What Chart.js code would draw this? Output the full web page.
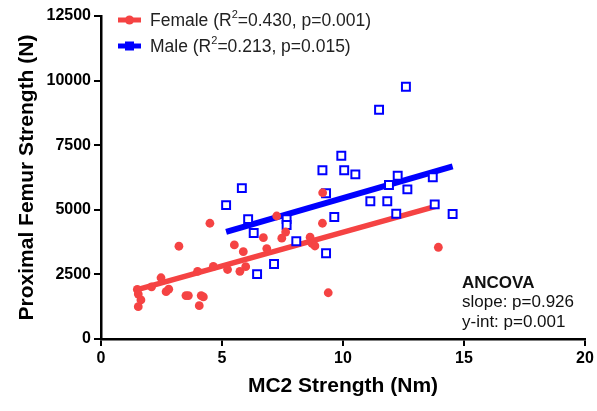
<!DOCTYPE html>
<html lang="en">
<head>
<meta charset="UTF-8">
<title>Proximal Femur vs MC2 Strength</title>
<style>
    html, body { margin: 0; padding: 0; background: #fff; }
    #femurChart { display: block; }
</style>
<script src="https://cdn.jsdelivr.net/npm/chart.js"></script>
</head>
<body>
<canvas id="femurChart" width="597" height="411"></canvas>
<script>
    // values
    const femaleX = [1.50, 1.54, 1.65, 1.54, 2.09, 2.48, 2.69, 2.80, 3.22, 3.51, 3.61, 3.99, 4.06, 4.14, 4.23, 4.50, 4.64,
                     5.23, 5.51, 5.74, 5.88, 5.98, 6.71, 6.85, 7.26, 7.47, 7.63, 8.64, 8.72, 8.84, 9.15, 9.16, 9.39, 13.94];
    const femaleY = [1920, 1740, 1510, 1250, 2020, 2370, 1830, 1930, 3590, 1680, 1680, 2620, 1290, 1680, 1630, 4480, 2810,
                     2690, 3640, 2620, 3380, 2800, 3920, 3500, 4760, 3900, 4140, 3940, 3700, 3600, 4480, 5660, 1790, 3550];

    const maleX = [5.17, 5.82, 6.08, 6.31, 6.45, 7.15, 7.67, 7.67, 8.07, 9.15, 9.30, 9.30, 9.64, 9.93, 10.05, 10.51,
                   11.13, 11.49, 11.83, 11.90, 12.20, 12.26, 12.60, 12.66, 13.71, 13.79, 14.53];
    const maleY = [5180, 5840, 4640, 4100, 2510, 2900, 4640, 4410, 3780, 6530, 5640, 3320, 4720, 7090, 6530, 6370,
                   5330, 8870, 5330, 5960, 4850, 6320, 9760, 5790, 6260, 5210, 4840];

    // regression line ends
    const femaleFitX = [1.50, 13.94];
    const femaleFitY = [1910, 5165];
    const maleFitX = [5.17, 14.53];
    const maleFitY = [4148, 6679];

    const xTicks = [0, 5, 10, 15, 20];
    const yTicks = [0, 2500, 5000, 7500, 10000, 12500];

    const legendRows = [
        { name: 'Female', r2: '0.430', p: '0.001' },
        { name: 'Male', r2: '0.213', p: '0.015' }
    ];
    const ancovaLines = ['ANCOVA', 'slope: p=0.926', 'y-int: p=0.001'];

    const RED = '#F54343';
    const BLUE = '#0000FF';
    const FONT = '"Liberation Sans", Arial, Helvetica, sans-serif';

    const pairs = (xs, ys) => xs.map((x, i) => ({ x: x, y: ys[i] }));

    // legend with superscript and the ANCOVA note
    const notesPlugin = {
        id: 'notes',
        afterDraw(chart) {
            const ctx = chart.ctx;
            ctx.save();
            ctx.textBaseline = 'middle';
            legendRows.forEach((row, i) => {
                const y = 20 + i * 26;
                const color = i === 0 ? RED : BLUE;
                ctx.strokeStyle = color;
                ctx.fillStyle = color;
                ctx.lineWidth = 5;
                ctx.beginPath();
                ctx.moveTo(118, y);
                ctx.lineTo(141, y);
                ctx.stroke();
                if (i === 0) {
                    ctx.beginPath();
                    ctx.arc(129.5, y, 4.5, 0, Math.PI * 2);
                    ctx.fill();
                } else {
                    ctx.fillRect(125, y - 4.5, 9, 9);
                }
                ctx.fillStyle = '#222';
                let x = 150;
                ctx.font = '17.5px ' + FONT;
                const a = row.name + ' (R';
                ctx.fillText(a, x, y + 1);
                x += ctx.measureText(a).width;
                ctx.font = '11px ' + FONT;
                ctx.fillText('2', x, y - 5);
                x += ctx.measureText('2').width;
                ctx.font = '17.5px ' + FONT;
                ctx.fillText('=' + row.r2 + ', p=' + row.p + ')', x, y + 1);
            });

            ctx.fillStyle = '#111';
            ancovaLines.forEach((t, i) => {
                ctx.font = (i === 0 ? 'bold ' : '') + '17px ' + FONT;
                ctx.fillText(t, 462, 283 + i * 19.5);
            });
            ctx.restore();
        }
    };

    const ctx = document.getElementById('femurChart').getContext('2d');
    new Chart(ctx, {
        type: 'scatter',
        data: {
            datasets: [
                {
                    label: 'Female',
                    data: pairs(femaleX, femaleY),
                    backgroundColor: RED,
                    borderColor: RED,
                    borderWidth: 0,
                    pointRadius: 4.4,
                    pointHoverRadius: 4.4
                },
                {
                    label: 'Male',
                    data: pairs(maleX, maleY),
                    pointStyle: 'rect',
                    backgroundColor: '#fff',
                    borderColor: BLUE,
                    borderWidth: 2,
                    pointRadius: 5.6,
                    pointHoverRadius: 5.6
                },
                {
                    type: 'line',
                    label: 'Female fit',
                    data: pairs(femaleFitX, femaleFitY),
                    borderColor: RED,
                    borderWidth: 5.5,
                    pointRadius: 0,
                    fill: false
                },
                {
                    type: 'line',
                    label: 'Male fit',
                    data: pairs(maleFitX, maleFitY),
                    borderColor: BLUE,
                    borderWidth: 6,
                    pointRadius: 0,
                    fill: false
                }
            ]
        },
        options: {
            responsive: false,
            animation: false,
            layout: { padding: { top: 16, right: 12, left: 0, bottom: 0 } },
            plugins: {
                legend: { display: false },
                tooltip: { enabled: false }
            },
            scales: {
                x: {
                    type: 'linear',
                    min: 0,
                    max: 20,
                    afterBuildTicks: (scale) => { scale.ticks = xTicks.map(v => ({ value: v })); },
                    afterFit: (scale) => { scale.height = 72; },
                    border: { color: '#000', width: 2.5 },
                    grid: { drawOnChartArea: false, drawTicks: true, tickLength: 7, color: '#000', lineWidth: 2 },
                    ticks: {
                        color: '#000',
                        padding: 3,
                        font: { family: FONT, size: 16, weight: 'bold' },
                        callback: (v) => String(v)
                    },
                    title: {
                        display: true,
                        text: 'MC2 Strength (Nm)',
                        color: '#000',
                        font: { family: FONT, size: 21, weight: 'bold' },
                        padding: { top: 0, bottom: 12 }
                    }
                },
                y: {
                    type: 'linear',
                    min: 0,
                    max: 12500,
                    afterBuildTicks: (scale) => { scale.ticks = yTicks.map(v => ({ value: v })); },
                    afterFit: (scale) => { scale.width = 101; },
                    border: { color: '#000', width: 2.5 },
                    grid: { drawOnChartArea: false, drawTicks: true, tickLength: 7, color: '#000', lineWidth: 2 },
                    ticks: {
                        color: '#000',
                        padding: 3,
                        font: { family: FONT, size: 16, weight: 'bold' },
                        callback: (v) => String(v)
                    },
                    title: {
                        display: true,
                        text: 'Proximal Femur Strength (N)',
                        color: '#000',
                        font: { family: FONT, size: 21, weight: 'bold' },
                        padding: { top: 15, bottom: 0 }
                    }
                }
            }
        },
        plugins: [notesPlugin]
    });
</script>
</body>
</html>
